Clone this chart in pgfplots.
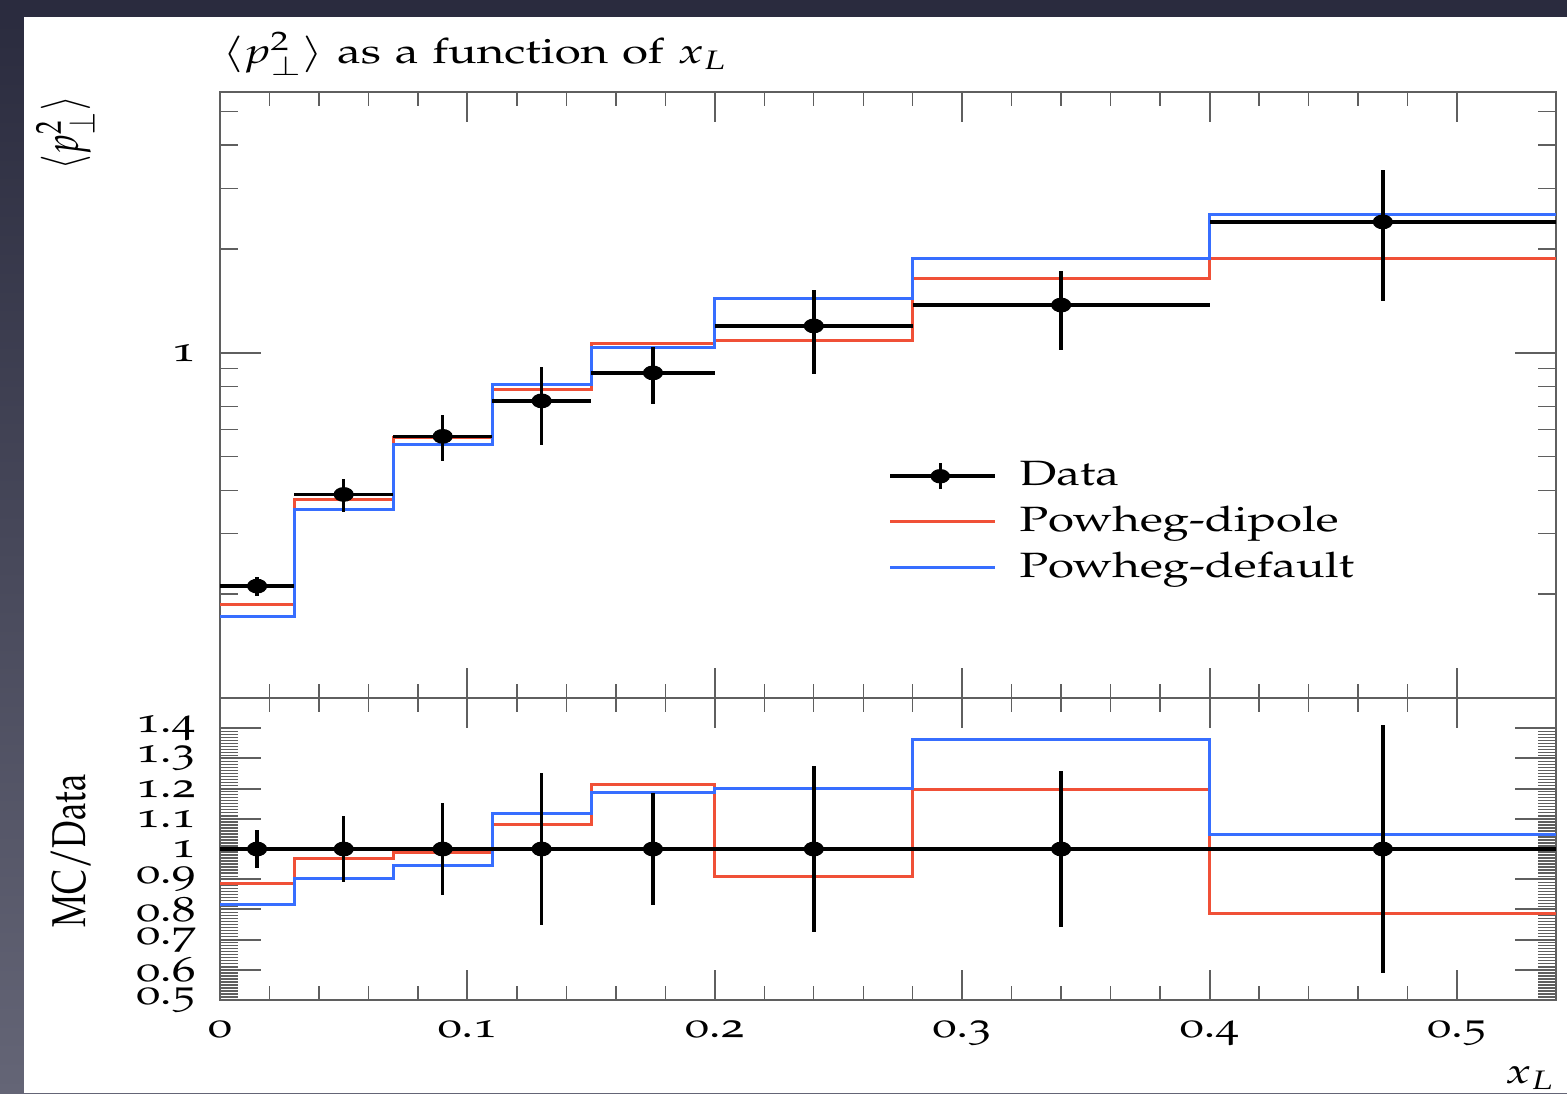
\documentclass[border=0pt]{standalone}
\usepackage[T1]{fontenc}
\usepackage[osf]{mathpazo}
\usepackage{graphicx}
\usepackage{pgfplots}
\pgfplotsset{compat=1.18}

\definecolor{mcred}{RGB}{240,80,55}
\definecolor{mcblue}{RGB}{55,110,255}
\definecolor{framegray}{RGB}{95,95,95}
\definecolor{slidetop}{RGB}{42,43,62}
\definecolor{slidebot}{RGB}{100,101,118}
% labels are set a little wider than the font's natural shape
\newcommand{\sx}[1]{\scalebox{1.35}[1]{#1}}
\newcommand{\sy}[1]{\scalebox{1}[1.35]{#1}}

\pgfplotsset{
  rivet/.style={
    scale only axis, xmin=0, xmax=0.54,
    axis line style={framegray, line width=0.7pt},
    tick style={framegray, line width=0.6pt},
    minor tick style={line width=0.4pt},
    xtick={0,0.1,0.2,0.3,0.4,0.5}, minor x tick num=4,
    xtick style={/pgfplots/major tick length=3mm,/pgfplots/minor tick length=1.4mm},
    ytick style={/pgfplots/major tick length=4.1mm,/pgfplots/minor tick length=1.8mm},
    tick align=inside,
    tick label style={font=\fontsize{10}{12}\selectfont},
    yticklabel style={xshift=-1.2mm},
  },
  mcline/.style={const plot mark left, line width=0.85pt, no marks},
  datapts/.style={black, only marks, mark=*, mark size=1.9pt, mark options={xscale=1.4},
    error bars/x dir=both, error bars/x explicit,
    error bars/y dir=both, error bars/y explicit,
    error bars/error mark=none,
    error bars/error bar style={line width=1pt, black}},
}

\begin{document}
\begin{tikzpicture}
\useasboundingbox (0,0) rectangle (156.7mm,-109.3mm);
\shade[top color=slidetop, bottom color=slidebot] (0,0) rectangle (156.7mm,-109.3mm);
\fill[white] (2.4mm,-1.7mm) rectangle (156.7mm,-109.3mm);

% main panel: <p_perp^2> versus x_L
\begin{axis}[rivet, name=top,
  at={(22mm,-69.8mm)}, anchor=south west,
  width=133.6mm, height=60.6mm,
  ymode=log, ymin=0.1, ymax=5.7,
  ytick={1}, yticklabels={\sx{1}},
  minor ytick={0.2,0.3,0.4,0.5,0.6,0.7,0.8,0.9,2,3,4,5},
  xticklabels={},
  legend style={draw=none, fill=none, inner sep=0pt, outer sep=0pt,
    at={(axis description cs:0.5004,0.397)}, anchor=north west,
    row sep=0.7mm, column sep=0.9mm, font=\fontsize{10}{12}\selectfont,
    nodes={inner xsep=1.35mm, inner ysep=0.4mm}},
  legend cell align=left,
]
\addlegendimage{legend image code/.code={
  \draw[black, line width=1pt] (0mm,0mm) -- (10.5mm,0mm);
  \draw[black, line width=1pt] (5mm,-1.3mm) -- (5mm,1.3mm);
  \fill[black] (5mm,0mm) ellipse (0.9mm and 0.65mm);}}
\addlegendentry{\sx{Data}}
\addlegendimage{legend image code/.code={\draw[mcred, line width=0.85pt] (0mm,0mm) -- (10.5mm,0mm);}}
\addlegendentry{\sx{Powheg-dipole}}
\addlegendimage{legend image code/.code={\draw[mcblue, line width=0.85pt] (0mm,0mm) -- (10.5mm,0mm);}}
\addlegendentry{\sx{Powheg-default}}

\addplot[mcline, mcred, forget plot] coordinates {
  (0,0.187) (0.03,0.377) (0.07,0.567) (0.11,0.784) (0.15,1.063)
  (0.2,1.089) (0.28,1.648) (0.4,1.883) (0.54,1.883)};
\addplot[mcline, mcblue, forget plot] coordinates {
  (0,0.172) (0.03,0.351) (0.07,0.541) (0.11,0.812) (0.15,1.039)
  (0.2,1.436) (0.28,1.876) (0.4,2.513) (0.54,2.513)};
\addplot[datapts, forget plot] coordinates {
  (0.015,0.211) +- (0.015,0.0133)
  (0.05,0.389)  +- (0.02,0.042)
  (0.09,0.573)  +- (0.02,0.0877)
  (0.13,0.726)  +- (0.02,0.184)
  (0.175,0.875) +- (0.025,0.164)
  (0.24,1.197)  +- (0.04,0.329)
  (0.34,1.376)  +- (0.06,0.355)
  (0.47,2.396)  +- (0.07,0.982)};
\end{axis}

% ratio panel: MC / Data
\begin{axis}[rivet, name=bot,
  at={(22mm,-100mm)}, anchor=south west,
  width=133.6mm, height=30.2mm,
  ymin=0.5, ymax=1.5,
  ytick={0.5,0.6,0.7,0.8,0.9,1,1.1,1.2,1.3,1.4},
  minor y tick num=9,
  xticklabel={\sx{\pgfmathprintnumber[assume math mode=true]{\tick}}},
  yticklabel={\sx{\pgfmathprintnumber[assume math mode=true]{\tick}}},
  xticklabel style={yshift=-0.8mm},
]
\addplot[mcline, mcred] coordinates {
  (0,0.886) (0.03,0.970) (0.07,0.990) (0.11,1.080) (0.15,1.215)
  (0.2,0.910) (0.28,1.198) (0.4,0.786) (0.54,0.786)};
\addplot[mcline, mcblue] coordinates {
  (0,0.815) (0.03,0.902) (0.07,0.945) (0.11,1.118) (0.15,1.187)
  (0.2,1.200) (0.28,1.363) (0.4,1.049) (0.54,1.049)};
\addplot[datapts] coordinates {
  (0.015,1) +- (0.015,0.063)
  (0.05,1)  +- (0.02,0.108)
  (0.09,1)  +- (0.02,0.153)
  (0.13,1)  +- (0.02,0.253)
  (0.175,1) +- (0.025,0.187)
  (0.24,1)  +- (0.04,0.275)
  (0.34,1)  +- (0.06,0.258)
  (0.47,1)  +- (0.07,0.41)};
\end{axis}

% title and axis labels
\node[anchor=base west, inner sep=0pt, font=\fontsize{10}{12}\selectfont]
  at (22.2mm,-6.3mm) {\sx{$\langle p_\perp^2\rangle$ as a function of $x_L$}};
\node[rotate=90, anchor=base east, inner sep=0pt, font=\fontsize{10}{12}\selectfont]
  at (7.8mm,-9.5mm) {\sy{$\langle p_\perp^2\rangle$}};
\node[rotate=90, anchor=base, inner sep=0pt, font=\fontsize{10}{12}\selectfont]
  at (8.5mm,-85.1mm) {\sy{MC/Data}};
\node[anchor=base east, inner sep=0pt, font=\fontsize{10}{12}\selectfont]
  at (155.6mm,-108.3mm) {\sx{$x_L$}};
\end{tikzpicture}
\end{document}
